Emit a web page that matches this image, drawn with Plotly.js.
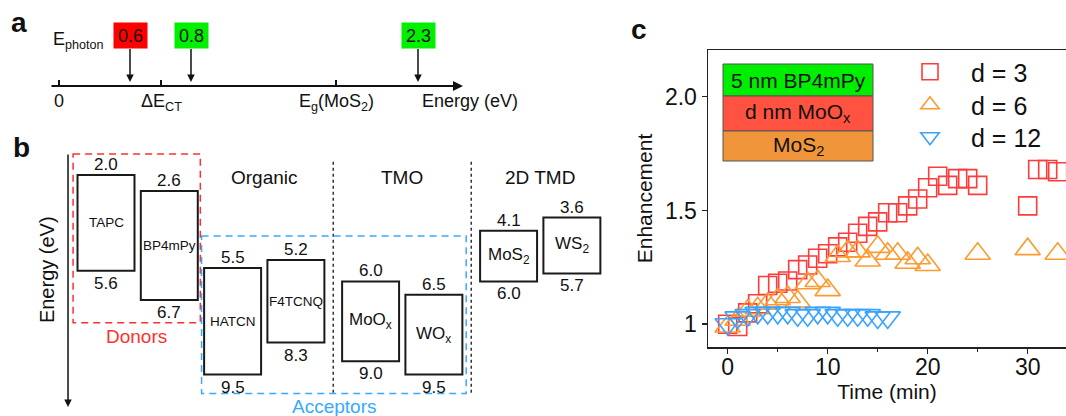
<!DOCTYPE html>
<html>
<head>
<meta charset="utf-8">
<script src="https://cdn.plot.ly/plotly-3.0.1.min.js"></script>
<style>
html,body{margin:0;padding:0;background:#fff;}
#chart{width:1066px;height:416px;}
</style>
</head>
<body>
<div id="chart"></div>
<script>
// ---------------- DATA ----------------
// Panel a: photon energies (eV) and the labelled points on the energy axis
const photonEnergies = [0.6, 0.8, 2.3];
const energyTickLabels = ['0', 'ΔE<sub>CT</sub>', 'E<sub>g</sub>(MoS<sub>2</sub>)'];

// Panel b: energy levels (eV below vacuum)
const materials = ['TAPC', 'BP4mPy', 'HATCN', 'F4TCNQ', 'MoO<sub>x</sub>', 'WO<sub>x</sub>', 'MoS<sub>2</sub>', 'WS<sub>2</sub>'];
const levelTop = [2.0, 2.6, 5.5, 5.2, 6.0, 6.5, 4.1, 3.6];
const levelBottom = [5.6, 6.7, 9.5, 8.3, 9.0, 9.5, 6.0, 5.7];
const materialGroup = [0, 0, 0, 0, 1, 1, 2, 2];
const groupNames = ['Organic', 'TMO', '2D TMD'];
const donorIndex = [0, 1];
const acceptorIndex = [2, 3, 4, 5];

// Panel c: enhancement vs time
const timeD3 = [0,1,2,3,4,5,6,7,8,9,10,11,12,13,14,15,16,17,18,19,20,21,22,23,24,25,30,31,32,33];
const enhD3 = [1.00,0.99,1.05,1.09,1.17,1.18,1.19,1.24,1.26,1.29,1.31,1.34,1.36,1.40,1.43,1.45,1.49,1.49,1.52,1.55,1.60,1.65,1.61,1.64,1.64,1.61,1.52,1.68,1.68,1.67];
const timeD6 = [0,1,2,3,4,5,6,7,8,9,10,11,12,13,14,15,16,17,18,19,20,25,30,33];
const enhD6 = [0.99,1.02,1.06,1.07,1.09,1.11,1.12,1.10,1.18,1.19,1.15,1.30,1.32,1.32,1.28,1.34,1.31,1.31,1.27,1.29,1.26,1.31,1.33,1.31];
const timeD12 = [0,1,2,3,4,5,6,7,8,9,10,11,12,13,14,15,16];
const enhD12 = [1.00,1.03,1.04,1.05,1.05,1.05,1.05,1.04,1.04,1.05,1.05,1.04,1.04,1.04,1.04,1.03,1.03];
const seriesNames = ['d = 3', 'd = 6', 'd = 12'];
const stackLayers = ['5 nm BP4mPy', 'd nm MoO<sub>x</sub>', 'MoS<sub>2</sub>'];

// ---------------- LAYOUT HELPERS ----------------
const W = 1066, H = 416;
const FONT = 'Liberation Sans, Arial, sans-serif';
const px = x => x / W;
const py = y => 1 - y / H;

const shapes = [];
const annotations = [];

function txt(o) {
  return Object.assign({showarrow: false, font: {family: FONT, size: 18, color: '#111'}}, o);
}

// panel labels
[['a', 9, 22], ['b', 11, 147], ['c', 629, 30]].forEach(([t, x, y]) => {
  annotations.push(txt({text: '<b>' + t + '</b>', xref: 'paper', yref: 'paper', x: px(x), y: py(y),
    xanchor: 'left', yanchor: 'middle', font: {family: FONT, size: 28, color: '#111'}}));
});

// ---------------- PANEL A (schematic) ----------------
const A = {axisY: 86, axisX0: 50, axisX1: 463, tickX: [59, 161, 336], photonX: [130, 191, 418],
           boxY: 36, headY: 82, labelY: 89};
const photonColors = ['#ff0000', '#00f000', '#00f000'];
annotations.push({xref: 'paper', yref: 'paper', x: px(A.axisX1), y: py(A.axisY), ax: A.axisX0 - A.axisX1, ay: 0,
  showarrow: true, arrowhead: 2, arrowsize: 1, arrowwidth: 2, arrowcolor: '#111', text: ''});
A.tickX.forEach((x, i) => {
  shapes.push({type: 'line', xref: 'paper', yref: 'paper', x0: px(x), x1: px(x), y0: py(A.axisY), y1: py(A.axisY - 6),
    line: {color: '#111', width: 2}});
  annotations.push(txt({text: energyTickLabels[i], xref: 'paper', yref: 'paper', x: px(x), y: py(A.labelY),
    xanchor: 'center', yanchor: 'top'}));
});
annotations.push(txt({text: 'Energy (eV)', xref: 'paper', yref: 'paper', x: px(420), y: py(A.labelY),
  xanchor: 'left', yanchor: 'top'}));
annotations.push(txt({text: 'E<sub>photon</sub>', xref: 'paper', yref: 'paper', x: px(51), y: py(40),
  xanchor: 'left', yanchor: 'middle'}));
photonEnergies.forEach((e, i) => {
  annotations.push({xref: 'paper', yref: 'paper', x: px(A.photonX[i]), y: py(A.headY),
    ax: 0, ay: A.boxY - A.headY, showarrow: true, arrowhead: 2, arrowsize: 1, arrowwidth: 1.5, arrowcolor: '#111',
    text: e.toFixed(1), bgcolor: photonColors[i], width: 33, height: 25, borderpad: 0,
    font: {family: FONT, size: 18, color: '#111'}});
});

// ---------------- PANEL B (energy levels) ----------------
const groupGap = 0.18, halfW = 0.45;
const slotX = materials.map((m, i) => i + groupGap * materialGroup[i]);
materials.forEach((m, i) => {
  shapes.push({type: 'rect', xref: 'x2', yref: 'y2', x0: slotX[i] - halfW, x1: slotX[i] + halfW,
    y0: levelTop[i], y1: levelBottom[i], line: {color: '#1a1a1a', width: 2}});
  const big = materialGroup[i] > 0;
  annotations.push(txt({text: m, xref: 'x2', yref: 'y2', x: slotX[i], y: (levelTop[i] + levelBottom[i]) / 2,
    xanchor: 'center', yanchor: 'middle', font: {family: FONT, size: big ? 17 : 13.5, color: '#111'}}));
  annotations.push(txt({text: levelTop[i].toFixed(1), xref: 'x2', yref: 'y2', x: slotX[i], y: levelTop[i],
    xanchor: 'center', yanchor: 'bottom', yshift: -1, font: {family: FONT, size: 17, color: '#111'}}));
  annotations.push(txt({text: levelBottom[i].toFixed(1), xref: 'x2', yref: 'y2', x: slotX[i], y: levelBottom[i],
    xanchor: 'center', yanchor: 'top', yshift: -1, font: {family: FONT, size: 17, color: '#111'}}));
});
// group separators & names (Organic label sits over the acceptor pair, as in the figure)
for (let g = 0; g < groupNames.length; g++) {
  const idx = materialGroup.map((v, i) => v === g ? i : -1).filter(i => i >= 0);
  const last = idx[idx.length - 1];
  const labelX = (slotX[last - 1] + slotX[last]) / 2;
  annotations.push(txt({text: groupNames[g], xref: 'x2', yref: 'y2', x: labelX, y: 2.11,
    xanchor: 'center', yanchor: 'middle', font: {family: FONT, size: 19, color: '#111'}}));
  if (g > 0) {
    const sep = ((slotX[idx[0]] - halfW) + (slotX[idx[0] - 1] + halfW)) / 2;
    shapes.push({type: 'line', xref: 'x2', yref: 'y2', x0: sep, x1: sep, y0: 1.5, y1: 10.3,
      line: {color: '#333', width: 1.5, dash: '3px,3px'}});
  }
}
// donor / acceptor frames
function frame(ids, color, padL, padR, padT, padB, label) {
  const x0 = slotX[ids[0]] - padL, x1 = slotX[ids[ids.length - 1]] + padR;
  const y0 = Math.min(...ids.map(i => levelTop[i])) - padT;
  const y1 = Math.max(...ids.map(i => levelBottom[i])) + padB;
  shapes.push({type: 'rect', xref: 'x2', yref: 'y2', x0, x1, y0, y1,
    line: {color, width: 1.5, dash: '7px,5px'}});
  annotations.push(txt({text: label, xref: 'x2', yref: 'y2', x: (x0 + x1) / 2, y: y1,
    xanchor: 'center', yanchor: 'top', yshift: -1, font: {family: FONT, size: 19, color}}));
}
frame(donorIndex, '#ff3030', 0.52, 0.49, 0.79, 0.85, 'Donors');
frame(acceptorIndex, '#35aaff', 0.49, 0.51, 0.91, 0.71, 'Acceptors');
// energy axis arrow
annotations.push({xref: 'x2', yref: 'y2', axref: 'x2', ayref: 'y2', x: -0.60, y: 10.72, ax: -0.60, ay: 1.17,
  showarrow: true, arrowhead: 2, arrowsize: 1, arrowwidth: 1.5, arrowcolor: '#111', text: ''});
annotations.push(txt({text: 'Energy (eV)', xref: 'x2', yref: 'y2', x: -0.93, y: 5.57, textangle: -90,
  xanchor: 'center', yanchor: 'middle', font: {family: FONT, size: 20, color: '#111'}}));

// ---------------- PANEL C inset layer stack ----------------
const stackColors = ['#00ee00', '#ff5240', '#f0953a'];
const stackY = [64, 96, 131, 161];
stackLayers.forEach((t, i) => {
  shapes.push({type: 'rect', xref: 'paper', yref: 'paper', x0: px(723), x1: px(873),
    y0: py(stackY[i]), y1: py(stackY[i + 1]), fillcolor: stackColors[i], line: {color: '#555', width: 1}, layer: 'above'});
  annotations.push(txt({text: t, xref: 'paper', yref: 'paper', x: px(798), y: py((stackY[i] + stackY[i + 1]) / 2),
    xanchor: 'center', yanchor: 'middle', font: {family: FONT, size: 21, color: '#111'}}));
});

// ---------------- TRACES ----------------
const seriesColors = ['#ff3b3b', '#ff9a30', '#3aa3ff'];
const mk = (sym, color, size) => ({symbol: sym, size, color, line: {color, width: 1.6}});
const traces = [
  {x: timeD3, y: enhD3, name: seriesNames[0], legend: 'legend', type: 'scatter', mode: 'markers', marker: mk('square-open', seriesColors[0], 18)},
  {x: timeD6, y: enhD6, name: seriesNames[1], legend: 'legend2', type: 'scatter', mode: 'markers', marker: mk('triangle-up-open', seriesColors[1], 22)},
  {x: timeD12, y: enhD12, name: seriesNames[2], legend: 'legend3', type: 'scatter', mode: 'markers', marker: mk('triangle-down-open', seriesColors[2], 22)},
  // invisible anchor for the schematic axes
  {x: [0], y: [5], xaxis: 'x2', yaxis: 'y2', mode: 'markers', marker: {opacity: 0}, showlegend: false, hoverinfo: 'skip'}
];

const axisFont = {family: FONT, size: 23, color: '#111'};
const legendBase = (yTop) => ({x: px(889), y: py(yTop), xanchor: 'left', yanchor: 'middle', bgcolor: 'rgba(0,0,0,0)',
  font: {family: FONT, size: 25, color: '#111'}, itemwidth: 72});
const layout = {
  width: W, height: H,
  margin: {l: 0, r: 0, t: 0, b: 0, pad: 0},
  paper_bgcolor: '#fff', plot_bgcolor: 'rgba(0,0,0,0)',
  font: {family: FONT, color: '#111'},
  showlegend: true,
  legend: legendBase(72), legend2: legendBase(105), legend3: legendBase(137),
  xaxis: {domain: [px(708), 1], range: [-1.97, 33.83], showline: true, linecolor: '#222', linewidth: 1.5, mirror: true,
    ticks: 'outside', ticklen: 5, tickwidth: 1.5, tickcolor: '#222', tickvals: [0, 10, 20, 30], ticklabelstandoff: -6,
    minor: {tickvals: [5, 15, 25], ticks: 'outside', ticklen: 3, tickwidth: 1.5, tickcolor: '#222', showgrid: false},
    showgrid: false, zeroline: false, tickfont: axisFont,
    title: {text: 'Time (min)', font: {family: FONT, size: 21, color: '#111'}, standoff: 4}},
  yaxis: {domain: [py(347), py(50)], range: [0.9, 2.205], showline: true, linecolor: '#222', linewidth: 1.5, mirror: false,
    ticks: 'outside', ticklen: 5, tickwidth: 1.5, tickcolor: '#222', tickvals: [1, 1.5, 2.0], ticktext: ['1', '1.5', '2.0'],
    showgrid: false, zeroline: false, tickfont: axisFont,
    title: {text: 'Enhancement', font: {family: FONT, size: 21, color: '#111'}, standoff: 6}},
  xaxis2: {domain: [0, px(620)], range: [-106 / 63.3, (620 - 106) / 63.3], visible: false, anchor: 'y2', fixedrange: true},
  yaxis2: {domain: [0, py(140)], range: [2.0 + (416 - 175) / 26.6, 2.0 - (175 - 140) / 26.6], visible: false, anchor: 'x2', fixedrange: true},
  shapes, annotations
};

Plotly.newPlot('chart', traces, layout, {displayModeBar: false, staticPlot: true});
</script>
</body>
</html>
